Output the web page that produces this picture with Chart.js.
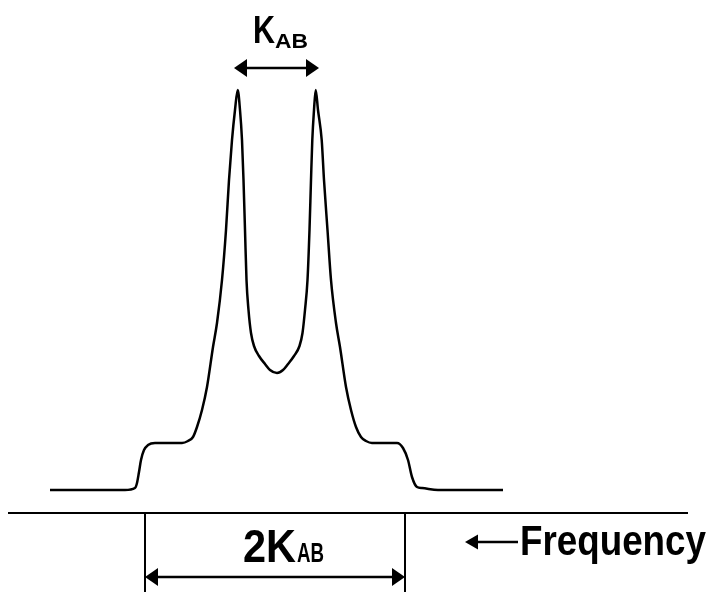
<!DOCTYPE html>
<html>
<head>
<meta charset="utf-8">
<script src="https://cdn.jsdelivr.net/npm/chart.js@4.4.1/dist/chart.umd.min.js"></script>
<style>
  html, body { margin: 0; padding: 0; background: #fff; }
  #wrap { width: 709px; height: 592px; }
</style>
</head>
<body>
<div id="wrap"><canvas id="spectrumCanvas" width="709" height="592"></canvas></div>
<script>
// AB quartet, frequency in arbitrary units, intensity as % of the tallest line
const freq = [
  -22.6, -15.1, -14.1, -13.9, -13.7, -13.5, -13.2, -12.8, -12.1, -9.4,
  -8.8, -8.3, -7.9, -7.4, -6.9, -6.3, -5.9, -5.4, -5.0, -4.7,
  -4.4, -4.1, -3.83, -3.6, -3.4, -3.25, -3.1, -2.95, -2.75, -2.5,
  -2.2, -1.7, -1.1, -0.6, 0.1, 0.7, 1.2, 1.8, 2.35, 2.65,
  2.9, 3.15, 3.35, 3.5, 3.63, 3.8, 3.97, 4.2, 4.57, 4.8,
  5.15, 5.5, 6.0, 6.4, 7.0, 7.5, 8.0, 8.5, 9.0, 9.6,
  12.1, 12.7, 13.2, 13.6, 14.1, 14.6, 16.2, 22.7
];
const intensity = [
  0, 0, 0.5, 1.75, 4.5, 7.5, 10, 11.25, 11.75, 11.75,
  12.25, 13.25, 15.75, 20, 25.75, 35.75, 41.75, 52.5, 65, 77.5,
  87.5, 95, 100, 95, 87.5, 77.5, 65, 52.5, 45, 39.25,
  36, 33.5, 31.5, 30, 29.25, 30, 31.5, 33.5, 36, 39.25,
  45, 52.5, 65, 77.5, 87.5, 95, 100, 95, 87.5, 77.5,
  65, 52.5, 41.75, 35.75, 25.75, 20, 15.75, 13.25, 12.25, 11.75,
  11.75, 10.5, 7.5, 3.25, 0.75, 0.5, 0, 0
];

// frequency axis and the two marks that bound the 2K_AB span
const axisFreq = [-26.8, 41.2];
const axisLevel = -5.75;
const spanMarks = [-13.1, 12.9];

const couplingText = 'K';
const doubleText = '2K';
const subText = 'AB';
const freqText = 'Frequency';

const xRange = [-27.6, 43.3];
const yRange = [-25.5, 122.5];

function arrowHead(ctx, tip, yy, dir, len, half) {
  ctx.beginPath();
  ctx.moveTo(tip, yy);
  ctx.lineTo(tip - dir * len, yy - half);
  ctx.lineTo(tip - dir * len, yy + half);
  ctx.closePath();
  ctx.fill();
}

function hArrow(ctx, x1, x2, yy, both, half) {
  ctx.lineWidth = 2.5;
  ctx.beginPath();
  ctx.moveTo(x1 + 4, yy);
  ctx.lineTo(both ? x2 - 4 : x2, yy);
  ctx.stroke();
  arrowHead(ctx, x1, yy, -1, 13, half);
  if (both) arrowHead(ctx, x2, yy, 1, 13, half);
}

function fitText(ctx, str, left, base, size, width) {
  ctx.font = 'bold ' + size + 'px "Liberation Sans", Arial, sans-serif';
  const w = ctx.measureText(str).width;
  ctx.save();
  ctx.translate(left, base);
  ctx.scale(width / w, 1);
  ctx.textBaseline = 'alphabetic';
  ctx.fillText(str, 0, 0);
  ctx.restore();
}

const notes = {
  id: 'notes',
  afterDatasetsDraw(chart) {
    const { ctx, scales: { x, y } } = chart;
    ctx.save();
    ctx.fillStyle = '#000';
    ctx.strokeStyle = '#000';

    // K_AB over the two main lines
    hArrow(ctx, x.getPixelForValue(-4.2), x.getPixelForValue(4.3), y.getPixelForValue(105.5), true, 9);
    fitText(ctx, couplingText, x.getPixelForValue(-2.3), y.getPixelForValue(111.75), 39, 22);
    fitText(ctx, subText, x.getPixelForValue(-0.1), y.getPixelForValue(110.5), 21, 33);

    // 2K_AB under the axis
    hArrow(ctx, x.getPixelForValue(spanMarks[0]), x.getPixelForValue(spanMarks[1]), y.getPixelForValue(-21.75), true, 9);
    fitText(ctx, doubleText, x.getPixelForValue(-3.3), y.getPixelForValue(-18), 46, 53);
    fitText(ctx, subText, x.getPixelForValue(2.1), y.getPixelForValue(-18), 28, 27);

    // frequency direction
    hArrow(ctx, x.getPixelForValue(18.9), x.getPixelForValue(24.2), y.getPixelForValue(-13), false, 7.5);
    fitText(ctx, freqText, x.getPixelForValue(24.4), y.getPixelForValue(-16.25), 42, 186);

    ctx.restore();
  }
};

const line = (pts, w) => ({
  data: pts,
  borderColor: '#000',
  borderWidth: w,
  pointRadius: 0,
  fill: false,
  clip: false
});

const ctx = document.getElementById('spectrumCanvas').getContext('2d');
new Chart(ctx, {
  type: 'line',
  data: {
    datasets: [
      Object.assign(line(freq.map((f, i) => ({ x: f, y: intensity[i] })), 2.5), { cubicInterpolationMode: 'monotone' }),
      line(axisFreq.map(f => ({ x: f, y: axisLevel })), 2),
      line([{ x: spanMarks[0], y: axisLevel }, { x: spanMarks[0], y: yRange[0] }], 2),
      line([{ x: spanMarks[1], y: axisLevel }, { x: spanMarks[1], y: yRange[0] }], 2)
    ]
  },
  options: {
    responsive: false,
    animation: false,
    layout: { padding: 0 },
    plugins: {
      legend: { display: false },
      tooltip: { enabled: false }
    },
    scales: {
      x: { type: 'linear', min: xRange[0], max: xRange[1], display: false },
      y: { type: 'linear', min: yRange[0], max: yRange[1], display: false }
    }
  },
  plugins: [notes]
});
</script>
</body>
</html>
